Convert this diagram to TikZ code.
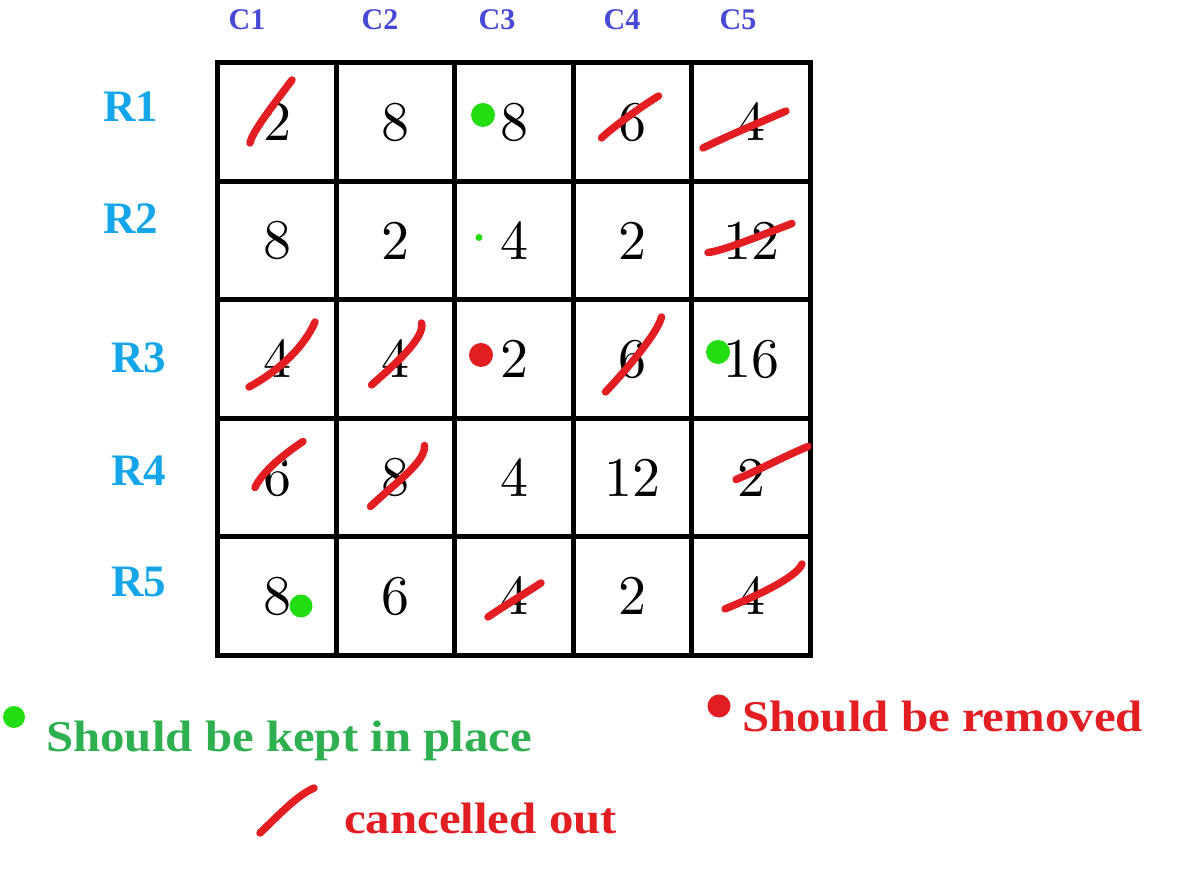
\documentclass[tikz,border=0pt]{standalone}
\usepackage{fontspec}
\usepackage{graphicx}
\usetikzlibrary{matrix}
\newfontfamily\labelfont{Liberation Serif}
\newfontfamily\digitfont{lmroman10-regular.otf}
\newcommand{\cellfont}{\digitfont\fontsize{56}{60}\selectfont}
\newcommand{\squeeze}[1]{\scalebox{1.11}[1]{#1}}
\definecolor{keepgreen}{RGB}{34,221,17}
\definecolor{keeptext}{RGB}{46,176,80}
\definecolor{cancelred}{RGB}{226,30,34}
\definecolor{rowblue}{RGB}{20,166,232}
\definecolor{colblue}{RGB}{72,72,214}

\begin{document}
\begin{tikzpicture}[x=1pt,y=1pt,ampersand replacement=\&,
  cell/.style={draw,line width=5pt,minimum size=118.5pt,inner sep=0pt,anchor=center,font=\cellfont},
  rowlabel/.style={text=rowblue,inner sep=0pt,font=\labelfont\bfseries\fontsize{45}{50}\selectfont},
  collabel/.style={text=colblue,inner sep=0pt,font=\labelfont\bfseries\fontsize{30}{34}\selectfont},
  legendtext/.style={anchor=base west,inner sep=0pt,font=\labelfont\bfseries\fontsize{44}{48}\selectfont},
  keepdot/.style={circle,fill=keepgreen,inner sep=0pt,minimum size=24pt},
  dropdot/.style={circle,fill=cancelred,inner sep=0pt,minimum size=24pt},
  cancelstroke/.style={draw=cancelred,line width=7.5pt,line cap=round}]
\useasboundingbox (0,0) rectangle (1200,882);

\matrix (m) [matrix of nodes,nodes={cell},row sep=-5pt,column sep=-5pt] at (514,523)
{ 2 \& 8 \& 8 \& 6 \& 4 \\
  8 \& 2 \& 4 \& 2 \& 12 \\
  4 \& 4 \& 2 \& 6 \& 16 \\
  6 \& 8 \& 4 \& 12 \& 2 \\
  8 \& 6 \& 4 \& 2 \& 4 \\
};

\foreach \x [count=\i] in {247,380,497,622,738}
  \node[collabel] (c\i) at (\x,862) {C\i};
\foreach \x/\y [count=\i] in {131/775,131/663,139/524,139/411,139/300}
  \node[rowlabel] (r\i) at (\x,\y) {R\i};

\node[keepdot] (k13) at ([shift={(-31,7)}]m-1-3.center) {};
\node[keepdot,minimum size=7pt] (k23) at ([shift={(-35,3)}]m-2-3.center) {};
\node[dropdot] (d33) at ([shift={(-33,4)}]m-3-3.center) {};
\node[keepdot] (k35) at ([shift={(-33,7)}]m-3-5.center) {};
\node[keepdot,minimum size=23pt] (k51) at ([shift={(24,-10)}]m-5-1.center) {};

\draw[cancelstroke,shift={(m-1-1.center)}] (-27,-21) .. controls (-25,-10) and (-3,18) .. (15,42);
\draw[cancelstroke,shift={(m-1-4.center)}] (-31,-16) .. controls (-22,-7) and (8,15) .. (26,26);
\draw[cancelstroke,shift={(m-1-5.center)}] (-48,-26) .. controls (-15,-10) and (15,2) .. (35,11);
\draw[cancelstroke,shift={(m-2-5.center)}] (-43,-12) .. controls (-30,-11) and (10,5) .. (41,17);
\draw[cancelstroke,shift={(m-3-1.center)}] (-28,-28) .. controls (5,-10) and (28,14) .. (38,37);
\draw[cancelstroke,shift={(m-3-2.center)}] (-24,-26) .. controls (0,-5) and (30,22) .. (26,36);
\draw[cancelstroke,shift={(m-3-4.center)}] (-27,-33) .. controls (-10,-15) and (25,25) .. (29,42);
\draw[cancelstroke,shift={(m-4-1.center)}] (-22,-10) .. controls (-15,5) and (5,22) .. (26,36);
\draw[cancelstroke,shift={(m-4-2.center)}] (-25,-29) .. controls (0,-5) and (30,15) .. (29,32);
\draw[cancelstroke,shift={(m-4-5.center)}] (-15,-2) .. controls (5,6) and (35,22) .. (57,31);
\draw[cancelstroke,shift={(m-5-3.center)}] (-26,-21) .. controls (-10,-10) and (15,5) .. (27,13);
\draw[cancelstroke,shift={(m-5-5.center)}] (-26,-13) .. controls (5,0) and (45,18) .. (51,32);

\node[keepdot,minimum size=22pt] (keepmark) at (14,165) {};
\node[dropdot,minimum size=23pt] (dropmark) at (719,176) {};
\draw[cancelstroke] (260,49) .. controls (278,66) and (296,86) .. (314,94);
\node[legendtext,text=keeptext] (keeplabel) at (46,130) {\squeeze{Should be kept in place}};
\node[legendtext,text=cancelred] (droplabel) at (742,150) {\squeeze{Should be removed}};
\node[legendtext,text=cancelred] (cancellabel) at (344,48) {\squeeze{cancelled out}};
\end{tikzpicture}
\end{document}
